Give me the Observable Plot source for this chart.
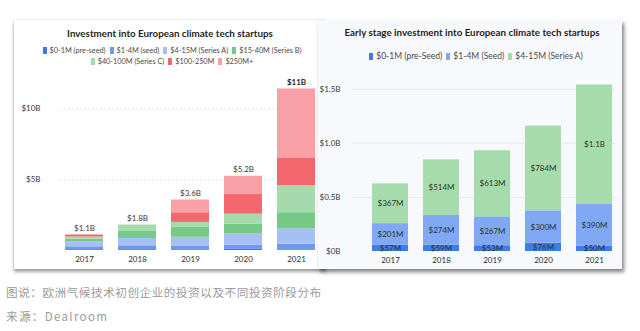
<!DOCTYPE html>
<html><head><meta charset="utf-8">
<script src="https://cdn.jsdelivr.net/npm/d3@7"></script>
<script src="https://cdn.jsdelivr.net/npm/@observablehq/plot@0.6"></script>
<style>
body{margin:0;width:640px;height:331px;background:#fff;position:relative;overflow:hidden;font-family:Lato,"Noto Sans",sans-serif;}
.card{position:absolute;top:20px;height:249px;}
#lc{left:14px;width:312px;background:#fff;box-shadow:0 0 2px rgba(0,0,0,0.18),0 3px 3px rgba(0,0,0,0.35);}
#rc{left:318px;width:304px;background:#f8f9fc;box-shadow:2px 3px 4px rgba(0,0,0,0.5);}
.title{position:absolute;left:0;right:0;text-align:center;font-weight:700;font-size:9.8px;color:#1e1e1e;white-space:nowrap;}
.legend{position:absolute;left:0;right:0;text-align:center;color:#4a4a4a;white-space:nowrap;}
.sw{display:inline-block;width:4px;height:7px;margin:0 3px 0 4px;vertical-align:-1px;}
.plot{position:absolute;}
.cap{position:absolute;left:6px;font-family:"Noto Sans CJK SC",sans-serif;color:#9a9a9a;white-space:nowrap;}
</style></head>
<body>
<div class="card" id="lc">
  <div class="title" style="top:7px;">Investment into European climate tech startups</div>
  <div class="legend" id="lleg" style="top:26px;font-size:7.3px;line-height:10.5px;"></div>
</div>
<div class="card" id="rc">
  <div class="title" style="top:6px;left:4px;">Early stage investment into European climate tech startups</div>
  <div class="legend" id="rleg" style="top:31px;font-size:8.5px;line-height:11px;left:8px;"></div>
</div>
<div class="plot" id="lp" style="left:15px;top:70px;"></div>
<div class="plot" id="rp" style="left:318px;top:70px;"></div>
<div class="cap" style="top:284px;font-size:11.6px;letter-spacing:0.55px;">图说：欧洲气候技术初创企业的投资以及不同投资阶段分布</div>
<div class="cap" style="top:308px;font-size:11.6px;letter-spacing:1.3px;">来源：Dealroom</div>
<script>
const years = ["2017","2018","2019","2020","2021"];

// Left chart: investment by round size, $B
const leftCats = ["$0-1M (pre-seed)","$1-4M (seed)","$4-15M (Series A)","$15-40M (Series B)","$40-100M (Series C)","$100-250M","$250M+"];
const leftColors = ["#3f78e6","#6f98ef","#a6c0f5","#77c987","#a5dbac","#f4676f","#f8a0a6"];
const preSeedB = [0.057,0.059,0.053,0.076,0.050];
const seedB    = [0.201,0.274,0.267,0.300,0.390];
const seriesAB = [0.367,0.514,0.613,0.784,1.1];
const seriesBB = [0.18,0.50,0.70,0.70,1.13];
const seriesCB = [0.15,0.45,0.35,0.70,1.90];
const m100B    = [0.14,0,0.68,1.39,1.97];
const m250B    = [0,0,0.9,1.29,4.86];
const totalLabels = ["$1.1B","$1.8B","$3.6B","$5.2B","$11B"];
const leftTicks = [5,10];

// Right chart: early stage, $M
const rightCats = ["$0-1M (pre-Seed)","$1-4M (Seed)","$4-15M (Series A)"];
const rightColors = ["#3d7de9","#80a8f4","#a6dcab"];
const preSeedM = [57,59,53,76,50];
const seedM    = [201,274,267,300,390];
const seriesAM = [367,514,613,784,1100];
const rightTicks = [0,0.5,1.0,1.5];

const leftSeries = [preSeedB,seedB,seriesAB,seriesBB,seriesCB,m100B,m250B];
const leftRows = [];
years.forEach((yr,i)=>leftCats.forEach((c,j)=>leftRows.push({year:yr,cat:c,value:leftSeries[j][i]})));
const totals = years.map((yr,i)=>({year:yr,total:d3.sum(leftSeries,s=>s[i]),label:totalLabels[i]}));

const rightSeries = [preSeedM,seedM,seriesAM];
const rightRows = [];
years.forEach((yr,i)=>{
  let acc=0;
  rightCats.forEach((c,j)=>{
    const v=rightSeries[j][i];
    rightRows.push({year:yr,cat:c,value:v/1000,mid:(acc+v/2)/1000,label:v>=1000?"$"+(v/1000).toFixed(1)+"B":"$"+v+"M"});
    acc+=v;
  });
});

function cats2html(cats,colors){return cats.map((c,i)=>`<span class="sw" style="background:${colors[i]}"></span>${c}`).join("");}
document.getElementById("lleg").innerHTML = cats2html(leftCats.slice(0,4),leftColors.slice(0,4)) + "<br>" + cats2html(leftCats.slice(4),leftColors.slice(4));
document.getElementById("rleg").innerHTML = cats2html(rightCats,rightColors);

const font = "Lato, 'Noto Sans', sans-serif";
const lp = Plot.plot({
  width:310, height:200, marginLeft:45, marginRight:10, marginTop:10, marginBottom:20,
  x:{type:"band", domain:years, range:[43.8,305.3], paddingInner:0.29, paddingOuter:0.1, label:null},
  y:{domain:[0,12], label:null},
  color:{domain:leftCats, range:leftColors},
  style:{fontFamily:font, fontSize:"8px", color:"#3a3a3a", background:"transparent", overflow:"visible"},
  marks:[
    Plot.ruleY(leftTicks,{stroke:"#e2e2e2", strokeDasharray:"2,2"}),
    Plot.barY(leftRows, Plot.stackY({x:"year", y:"value", fill:"cat"})),
    Plot.axisX({tickSize:0, tickPadding:6, fontSize:8, fill:"#2e2e2e"}),
    Plot.axisY({ticks:leftTicks, tickSize:0, tickPadding:20, fontSize:8, tickFormat:d=>"$"+d+"B"}),
    Plot.text(totals.filter(d=>d.year!=="2021"),{x:"year", y:"total", text:"label", dy:-7, fontSize:8, fill:"#3a3a3a"}),
    Plot.text(totals.filter(d=>d.year==="2021"),{x:"year", y:"total", text:"label", dy:-7, fontSize:8, fontWeight:"bold", fill:"#1e1e1e"})
  ]
});
document.getElementById("lp").appendChild(lp);

const rp = Plot.plot({
  width:305, height:200, marginLeft:34, marginRight:8, marginTop:8, marginBottom:19,
  x:{type:"band", domain:years, range:[46.3,301.6], paddingInner:0.29, paddingOuter:0.1, label:null},
  y:{domain:[0,1.6], label:null},
  color:{domain:rightCats, range:rightColors},
  style:{fontFamily:font, fontSize:"8px", color:"#3a3a3a", background:"transparent", overflow:"visible"},
  marks:[
    Plot.ruleY(rightTicks.filter(d=>d>0),{stroke:"#e8eaef"}),
    Plot.barY(rightRows, Plot.stackY({x:"year", y:"value", fill:"cat"})),
    Plot.axisX({tickSize:0, tickPadding:6, fontSize:8, fill:"#2e2e2e"}),
    Plot.axisY({ticks:rightTicks, tickSize:0, tickPadding:12, fontSize:8, tickFormat:d=>"$"+(d===0?"0":d.toFixed(1))+"B"}),
    Plot.text(rightRows,{x:"year", y:"mid", text:"label", fontSize:8, fill:"#26352a"})
  ]
});
document.getElementById("rp").appendChild(rp);
</script>
</body></html>
